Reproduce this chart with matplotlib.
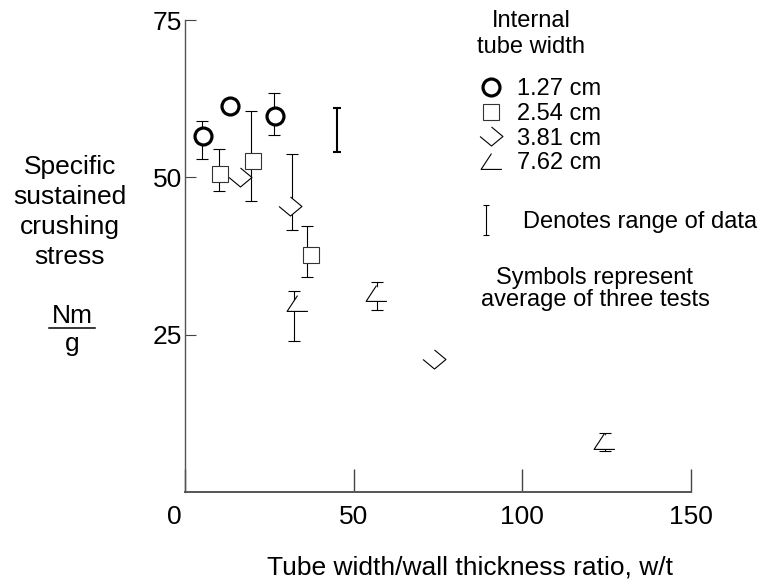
import numpy as np
import matplotlib
matplotlib.use("Agg")
import matplotlib.pyplot as plt
import matplotlib.transforms as mtransforms
from matplotlib.path import Path
from matplotlib.lines import Line2D

plt.rcParams['font.family'] = ['Liberation Sans', 'DejaVu Sans']

# data (w/t ratio, specific crushing stress Nm/g)
circ_x = [5.3, 13.3, 26.6]
circ_y = [56.5, 61.3, 59.7]
circ_bar_x = [4.9, 26.3]
circ_lo = [52.9, 56.8]
circ_hi = [58.9, 63.4]

sq_x = [10.5, 20.1, 37.3]
sq_y = [50.6, 52.6, 37.7]
sq_bar_x = [10.1, 19.7, 36.2]
sq_lo = [47.9, 46.3, 34.2]
sq_hi = [54.5, 60.5, 42.2]

dia_x = [16.4, 31.1, 73.7]
dia_y = [50.0, 45.4, 21.1]
dia_bar_x = [31.6]
dia_lo = [41.6]
dia_hi = [53.7]

tri_x = [33.1, 56.7, 124.3]
tri_y = [30.1, 31.7, 8.1]
tri_bar_x = [32.3, 56.8, 124.4]
tri_lo = [24.0, 28.9, 6.5]
tri_hi = [32.0, 33.3, 9.4]

# a range with no symbol
lone_x = [45.0]
lone_lo = [54.0]
lone_hi = [61.0]

labels = ['1.27 cm', '2.54 cm', '3.81 cm', '7.62 cm']
xticks = [0, 50, 100, 150]
yticks = [25, 50, 75]

# open markers
M, L = Path.MOVETO, Path.LINETO
diamond3 = Path([(0, 0.83), (1, 0), (0, -0.83), (-1, 0)], [M, L, L, L])
angle2 = Path([(0, 0.76), (-1, -0.76), (1, -0.76)], [M, L, L])
ibeam = Path([(-0.18, 1), (0.18, 1), (0, 1), (0, -1), (-0.18, -1), (0.18, -1)],
             [M, L, M, L, M, L])

fig = plt.figure(figsize=(7.63, 5.80), dpi=100)
W, H = 763.0, 580.0
ax = fig.add_axes([185 / W, 1 - 492 / H, (691 - 185) / W, (492 - 20) / H])

def bars(x, lo, hi, **kw):
    lo = np.array(lo); hi = np.array(hi)
    mid = (lo + hi) / 2
    ax.errorbar(x, mid, yerr=(hi - lo) / 2, fmt='none', ecolor='black', **kw)

bars(circ_bar_x, circ_lo, circ_hi, elinewidth=0.8, capsize=4, capthick=0.8, zorder=2)
bars(sq_bar_x, sq_lo, sq_hi, elinewidth=0.8, capsize=4, capthick=0.8, zorder=2)
bars(dia_bar_x, dia_lo, dia_hi, elinewidth=0.8, capsize=4, capthick=0.8, zorder=2)
bars(tri_bar_x, tri_lo, tri_hi, elinewidth=0.8, capsize=4, capthick=0.8, zorder=2)
bars(lone_x, lone_lo, lone_hi, elinewidth=1.5, capsize=3, capthick=1.5, zorder=2)

st = [dict(marker='o', ms=12.2, mew=2.3, mec='black'),
      dict(marker='s', ms=11, mew=0.8, mec='#333333'),
      dict(marker=diamond3, ms=16.5, mew=0.8, mec='black'),
      dict(marker=angle2, ms=15, mew=0.8, mec='black')]
series = [(circ_x, circ_y), (sq_x, sq_y), (dia_x, dia_y), (tri_x, tri_y)]
handles = []
for (x, y), s, lab in zip(series, st, labels):
    ax.plot(x, y, ls='none', mfc='white', zorder=3, **s)
    handles.append(Line2D([], [], ls='none', mfc='white', label=lab, **s))

ax.set_xlim(0, 150)
ax.set_ylim(0, 75)
ax.set_xticks(xticks)
ax.set_xticklabels([str(t) for t in xticks], fontsize=19)
ax.set_yticks(yticks)
ax.set_yticklabels([str(t) for t in yticks], fontsize=19)
ax.tick_params(axis='x', direction='in', length=16.5, width=1, color='#444444', pad=9)
ax.tick_params(axis='y', direction='in', length=8, width=0.8, color='#444444', pad=2)
# the "0" sits a little left of the corner
lab0 = ax.get_xticklabels()[0]
lab0.set_transform(lab0.get_transform() +
                   mtransforms.ScaledTranslation(-11 / 100, 0, fig.dpi_scale_trans))
ax.spines['top'].set_visible(False)
ax.spines['right'].set_visible(False)
ax.spines['bottom'].set_color('#555555')
ax.spines['bottom'].set_linewidth(1.4)
ax.spines['left'].set_color('#555555')
ax.spines['left'].set_linewidth(1.0)

leg1 = ax.legend(handles=handles, loc='upper left',
                 bbox_to_anchor=(479 / W, 1 - 78 / H), bbox_transform=fig.transFigure,
                 frameon=False, fontsize=17, borderpad=0, borderaxespad=0,
                 handlelength=1.0, handletextpad=0.6, labelspacing=0.12)
ax.add_artist(leg1)
range_h = Line2D([], [], ls='none', marker=ibeam, ms=21.5, mew=0.8, mec='black',
                 mfc='none', label='Denotes range of data')
ax.legend(handles=[range_h], loc='center left',
          bbox_to_anchor=(474 / W, 1 - 222 / H), bbox_transform=fig.transFigure,
          frameon=False, fontsize=17, borderpad=0, borderaxespad=0,
          handlelength=1.0, handletextpad=1.06)

fig.text(531 / W, 1 - 34 / H, 'Internal\ntube width', fontsize=17,
         ha='center', va='center', multialignment='center')
fig.text(595 / W, 1 - 289 / H, 'Symbols represent\naverage of three tests',
         fontsize=17, ha='center', va='center', multialignment='center',
         linespacing=1.0)

fig.text(70 / W, 1 - 212 / H, 'Specific\nsustained\ncrushing\nstress', fontsize=19,
         ha='center', va='center', multialignment='center', linespacing=1.32)
fig.text(72 / W, 1 - 323 / H, 'Nm', fontsize=19, ha='center', va='baseline')
fig.add_artist(Line2D([49 / W, 95 / W], [1 - 328 / H, 1 - 328 / H], color='black', lw=1.1))
fig.text(72 / W, 1 - 351 / H, 'g', fontsize=19, ha='center', va='baseline')
fig.text(470 / W, 1 - 567 / H, 'Tube width/wall thickness ratio, w/t', fontsize=19,
         ha='center', va='center')

fig.savefig('out.png', dpi=100)
